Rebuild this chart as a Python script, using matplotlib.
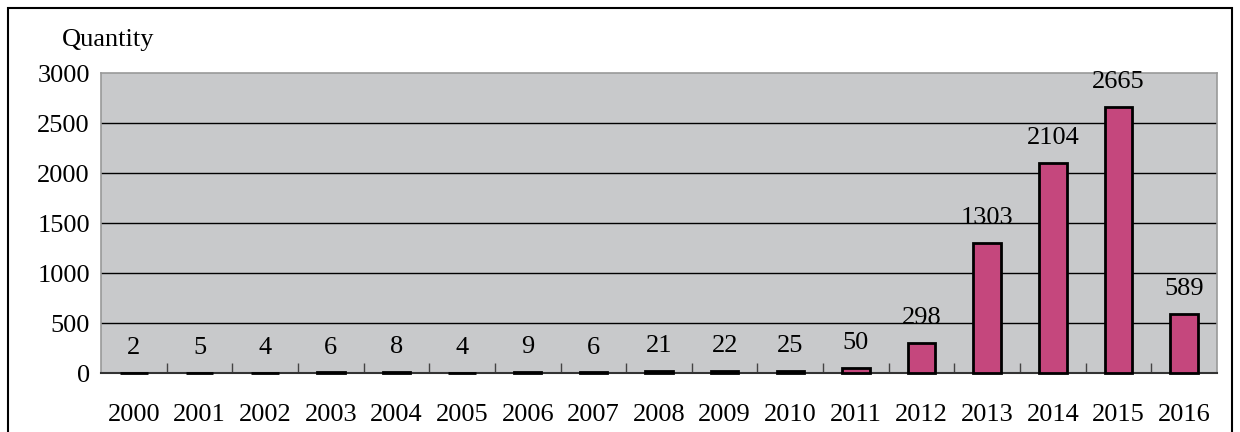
import matplotlib.pyplot as plt
from matplotlib.patches import Rectangle

years = [str(y) for y in range(2000, 2017)]
counts = [2, 5, 4, 6, 8, 4, 9, 6, 21, 22, 25, 50, 298, 1303, 2104, 2665, 589]
yticks = [0, 500, 1000, 1500, 2000, 2500, 3000]

plt.rcParams['font.family'] = ['Liberation Serif', 'DejaVu Serif']
plt.rcParams['font.size'] = 19

fig = plt.figure(figsize=(12.4, 4.32), dpi=100)
ax = fig.add_axes([101 / 1240, 1 - 373 / 432, 1116 / 1240, 300 / 432])
ax.set_facecolor('#c8c9cb')

x = list(range(len(years)))
bars = ax.bar(x, counts, width=0.42, color='#c5477d', edgecolor='black',
              linewidth=2.0, zorder=3)
for b in bars:
    b.set_clip_on(False)

for xi, v in zip(x, counts):
    ax.annotate(str(v), (xi, v), xytext=(0, 10), textcoords='offset points',
                ha='center', va='bottom')

ax.set_xlim(-0.5, len(years) - 0.5)
ax.set_ylim(0, 3000)
ax.set_yticks(yticks)
ax.set_yticklabels([str(t) for t in yticks])
ax.tick_params(axis='y', length=0, pad=8)
for t in yticks[1:-1]:
    ax.axhline(t, color='black', linewidth=1.0, zorder=1)

# category ticks between bars, pointing up
ax.set_xticks([i + 0.5 for i in x[:-1]], minor=True)
ax.set_xticks(x)
ax.set_xticklabels(years)
ax.tick_params(axis='x', which='major', length=0, pad=22)
ax.tick_params(axis='x', which='minor', direction='in', length=7, width=1, color='#444444')

for s in ['top', 'right', 'left']:
    ax.spines[s].set_color('#999999')
    ax.spines[s].set_linewidth(1.2)
ax.spines['bottom'].set_color('#333333')
ax.spines['bottom'].set_linewidth(1.5)

fig.text(62 / 1240, 1 - 40 / 432, 'Quantity', ha='left', va='center')

fig.patches.append(Rectangle((8 / 1240, -0.01), 1224 / 1240, 1 - 8 / 432 + 0.01,
                             transform=fig.transFigure, fill=False,
                             edgecolor='black', linewidth=1.5))

plt.savefig('out.png', dpi=100)
